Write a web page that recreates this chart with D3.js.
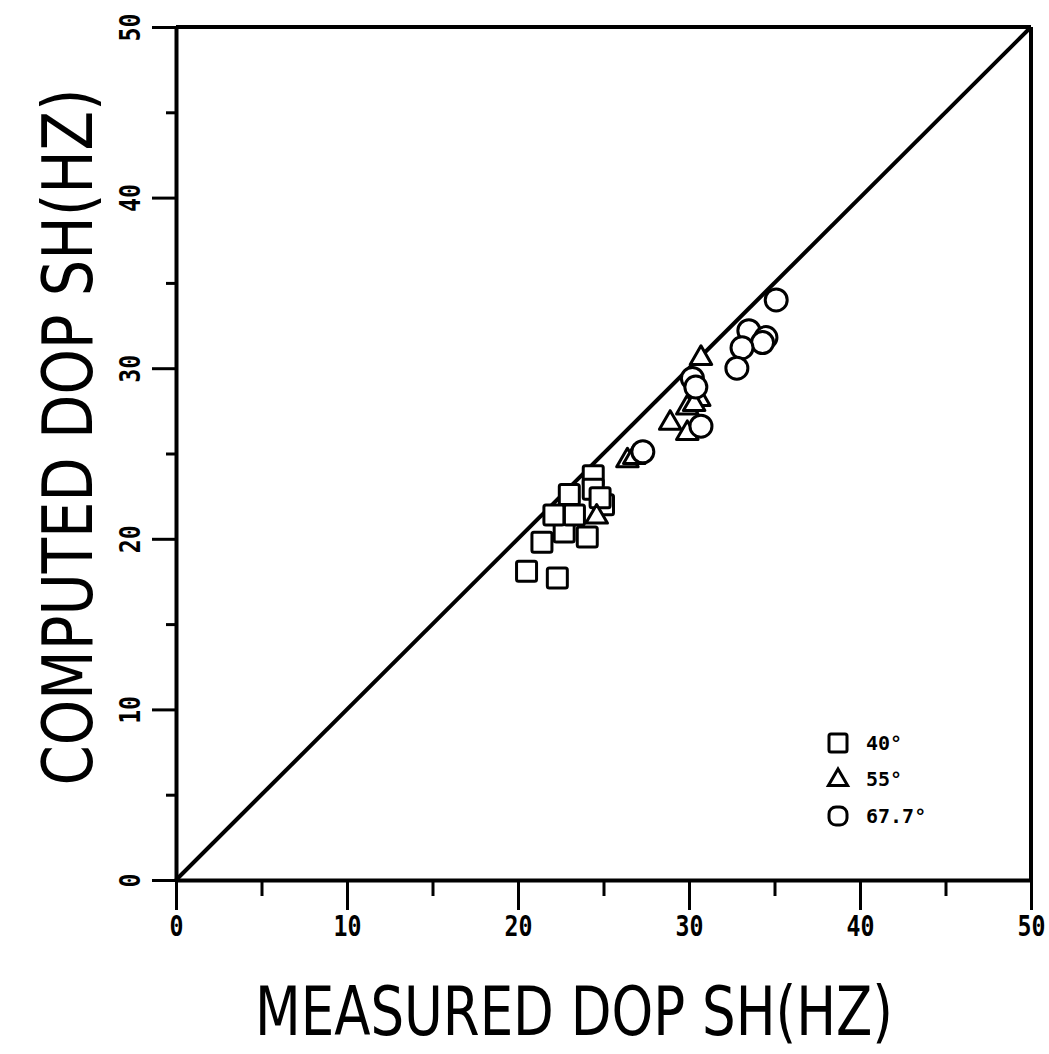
<!DOCTYPE html>
<html><head><meta charset="utf-8">
<script src="https://cdn.jsdelivr.net/npm/d3@7"></script>
<style>body{margin:0;background:#fff}svg{display:block}</style>
</head><body>
<script>
const majorTicks = [0, 10, 20, 30, 40, 50];
const minorTicks = [5, 15, 25, 35, 45];
const xTitle = "MEASURED DOP SH(HZ)";
const yTitle = "COMPUTED DOP SH(HZ)";
const legendLabels = ["40°", "55°", "67.7°"];
const squares40 = [[20.5,18.1],[22.3,17.7],[21.4,19.8],[22.7,20.4],[24.05,20.1],[22.1,21.4],[23.3,21.4],[23.0,22.6],[24.4,23.7],[24.4,22.9],[25.0,22.0],[24.8,22.4]];
const triangles55 = [[24.6,21.4],[26.4,24.7],[28.9,26.9],[29.9,26.3],[30.7,30.7],[30.6,28.3],[29.9,27.8],[30.3,28.0],[26.8,24.9]];
const circles677 = [[27.3,25.1],[30.7,26.6],[35.1,34.0],[33.5,32.2],[34.5,31.8],[34.3,31.5],[33.1,31.2],[32.8,30.0],[30.2,29.4],[30.4,28.9]];
const identityLine = [[0,0],[50,50]];

const W = 1049, H = 1054;
const svg = d3.select("body").append("svg").attr("width", W).attr("height", H);
const x = d3.scaleLinear().domain([0,50]).range([176,1031]);
const y = d3.scaleLinear().domain([0,50]).range([880,27]);
const ink = "#000";

// frame top/right
svg.append("line").attr("x1",x(0)).attr("x2",x(50)).attr("y1",y(50)).attr("y2",y(50)).attr("stroke",ink).attr("stroke-width",4);
svg.append("line").attr("x1",x(50)).attr("x2",x(50)).attr("y1",y(50)).attr("y2",y(0)).attr("stroke",ink).attr("stroke-width",4);

const tickFont = "'DejaVu Sans Mono', monospace";
// X axis
const gx = svg.append("g").attr("transform",`translate(0,${y(0)})`);
gx.call(d3.axisBottom(x).tickValues(majorTicks).tickSize(30).tickSizeOuter(0).tickFormat(d3.format("d")));
const gxm = svg.append("g").attr("transform",`translate(0,${y(0)})`);
gxm.call(d3.axisBottom(x).tickValues(minorTicks).tickSize(16).tickSizeOuter(0).tickFormat(""));
gxm.select(".domain").remove();
[gx,gxm].forEach(g=>{
  g.selectAll(".domain").attr("stroke",ink).attr("stroke-width",4);
  g.selectAll(".tick line").attr("stroke",ink).attr("stroke-width",3);
});
gx.selectAll(".tick text")
  .attr("y",0).attr("dy",null)
  .attr("transform","translate(0,46) scale(0.8,1)")
  .attr("text-anchor","middle").attr("dominant-baseline","central")
  .attr("font-family",tickFont).attr("font-weight","bold").attr("font-size",29).attr("fill",ink);

// Y axis
const gy = svg.append("g").attr("transform",`translate(${x(0)},0)`);
gy.call(d3.axisLeft(y).tickValues(majorTicks).tickSize(24).tickSizeOuter(0).tickPadding(0).tickFormat(d3.format("d")));
const gym = svg.append("g").attr("transform",`translate(${x(0)},0)`);
gym.call(d3.axisLeft(y).tickValues(minorTicks).tickSize(10).tickSizeOuter(0).tickFormat(""));
gym.select(".domain").remove();
[gy,gym].forEach(g=>{
  g.selectAll(".domain").attr("stroke",ink).attr("stroke-width",4);
  g.selectAll(".tick line").attr("stroke",ink).attr("stroke-width",3);
});
gy.selectAll(".tick text")
  .attr("x",0).attr("dy",null).attr("y",0)
  .attr("transform","translate(-46,0) rotate(-90) scale(0.8,1)")
  .attr("text-anchor","middle").attr("dominant-baseline","central")
  .attr("font-family",tickFont).attr("font-weight","bold").attr("font-size",29).attr("fill",ink);

// identity line
svg.append("path").datum(identityLine)
  .attr("d", d3.line().x(d=>x(d[0])).y(d=>y(d[1])))
  .attr("stroke",ink).attr("stroke-width",4).attr("fill","none");

// markers
const sw = 3;
svg.append("g").selectAll("rect").data(squares40).join("rect")
  .attr("x",d=>x(d[0])-10).attr("y",d=>y(d[1])-10).attr("width",20).attr("height",20).attr("rx",2)
  .attr("fill","#fff").attr("stroke",ink).attr("stroke-width",sw);
const tri = d3.symbol().type(d3.symbolTriangle).size(200);
svg.append("g").selectAll("path").data(triangles55).join("path")
  .attr("d",tri).attr("transform",d=>`translate(${x(d[0])},${y(d[1])+2})`)
  .attr("fill","#fff").attr("stroke",ink).attr("stroke-width",sw).attr("stroke-linejoin","round");
svg.append("g").selectAll("circle").data(circles677).join("circle")
  .attr("cx",d=>x(d[0])).attr("cy",d=>y(d[1])).attr("r",11)
  .attr("fill","#fff").attr("stroke",ink).attr("stroke-width",sw);

// legend
const lg = svg.append("g");
const ly = [743, 786, 816];
lg.append("rect").attr("x",829).attr("y",ly[0]-9).attr("width",18).attr("height",18).attr("rx",2).attr("fill","#fff").attr("stroke",ink).attr("stroke-width",sw);
lg.append("path").attr("d",d3.symbol().type(d3.symbolTriangle).size(160)).attr("transform",`translate(838,${ly[1]-6})`).attr("fill","#fff").attr("stroke",ink).attr("stroke-width",sw);
lg.append("rect").attr("x",829).attr("y",ly[2]-9).attr("width",18).attr("height",18).attr("rx",7).attr("fill","#fff").attr("stroke",ink).attr("stroke-width",sw);
lg.selectAll("text").data(legendLabels).join("text")
  .attr("x",866).attr("y",(d,i)=>[ly[0],ly[1]-7,ly[2]][i]).attr("dominant-baseline","central")
  .attr("font-family",tickFont).attr("font-weight","bold").attr("font-size",20).attr("fill",ink)
  .text(d=>d);

// titles
const titleFont = "'DejaVu Sans Condensed','DejaVu Sans',sans-serif";
svg.append("text").attr("x",574).attr("y",1035).attr("text-anchor","middle")
  .attr("font-family",titleFont).attr("font-size",68).attr("font-weight",300)
  .attr("textLength",638).attr("lengthAdjust","spacingAndGlyphs").attr("fill",ink).text(xTitle);
svg.append("text").attr("transform","translate(92,437) rotate(-90)").attr("text-anchor","middle")
  .attr("font-family",titleFont).attr("font-size",70).attr("font-weight",300)
  .attr("textLength",697).attr("lengthAdjust","spacingAndGlyphs").attr("fill",ink).text(yTitle);
</script>
</body></html>
